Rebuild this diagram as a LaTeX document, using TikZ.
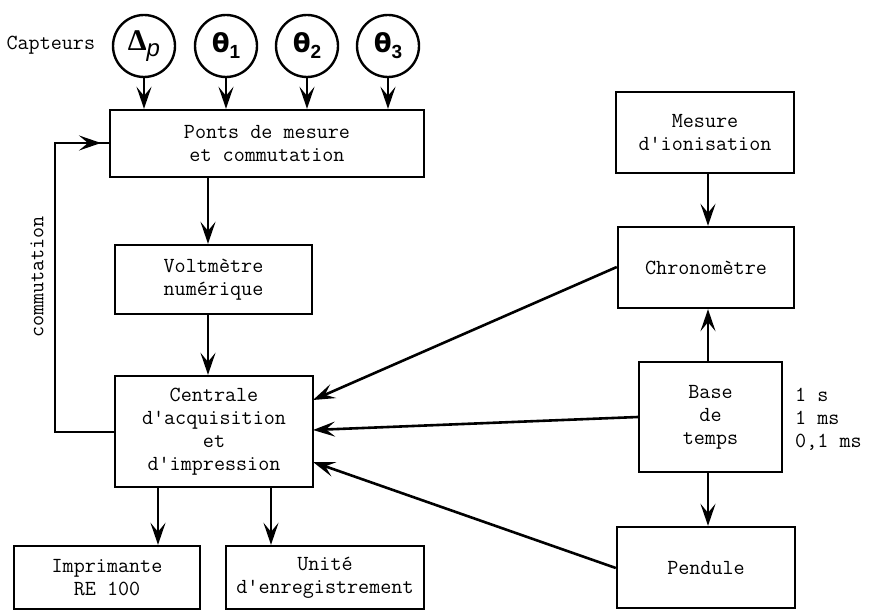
\documentclass[tikz,border=0pt]{standalone}
\usepackage{fontspec}
\usetikzlibrary{arrows.meta}
\newfontfamily\symsans{DejaVu Sans}
\newfontfamily\symserif{Liberation Serif}
\newfontfamily\subsans{Liberation Sans}
\begin{document}
\begin{tikzpicture}[x=1pt,y=-1pt]
\tikzset{
  ln/.style={line width=2.6pt},
  box/.style={draw,line width=2.4pt,rectangle,inner sep=0pt,align=center,font=\ttfamily\fontsize{21.5}{23}\selectfont},
  sens/.style={draw,line width=2.4pt,circle,minimum size=62pt,inner sep=0pt},
  lbl/.style={font=\ttfamily\fontsize{21.5}{23}\selectfont},
  arr/.style={line width=2.6pt,-{Stealth[length=22pt,width=15pt,inset=9pt]}}}
\useasboundingbox (0,0) rectangle (869,612);
% sensors
\node[lbl,anchor=west] (capt) at (3,45) {Capteurs};
\node[sens] (dp) at (144,46) {{\symserif\bfseries\fontsize{30}{30}\selectfont Δ}\raisebox{-6pt}{\subsans\itshape\fontsize{24}{24}\selectfont p}};
\node[sens] (t1) at (226,46) {{\symsans\bfseries\fontsize{26}{26}\selectfont θ}\raisebox{-6pt}{\subsans\bfseries\fontsize{19}{19}\selectfont 1}};
\node[sens] (t2) at (307,46) {{\symsans\bfseries\fontsize{26}{26}\selectfont θ}\raisebox{-6pt}{\subsans\bfseries\fontsize{19}{19}\selectfont 2}};
\node[sens] (t3) at (388,46) {{\symsans\bfseries\fontsize{26}{26}\selectfont θ}\raisebox{-6pt}{\subsans\bfseries\fontsize{19}{19}\selectfont 3}};
% left column
\node[box,minimum width=314pt,minimum height=67pt] (ponts) at (267,143.5) {Ponts de mesure\\et commutation};
\node[box,minimum width=197pt,minimum height=69pt] (volt) at (213.5,279.5) {Voltmètre\\numérique};
\node[box,minimum width=198pt,minimum height=111pt] (cent) at (214,431.5) {Centrale\\d'acquisition\\et\\d'impression};
\node[box,minimum width=186pt,minimum height=63pt] (impr) at (107,577.5) {Imprimante\\RE 100};
\node[box,minimum width=198pt,minimum height=63pt] (unit) at (325,577.5) {Unité\\d'enregistrement};
% right column
\node[box,minimum width=178pt,minimum height=81pt] (mes) at (705,132.5) {Mesure\\d'ionisation};
\node[box,minimum width=176pt,minimum height=81pt] (chrono) at (706,267.5) {Chronomètre};
\node[box,minimum width=143pt,minimum height=110pt] (base) at (710.5,417) {Base\\de\\temps};
\node[box,minimum width=178pt,minimum height=81pt] (pend) at (706,567.5) {Pendule};
\node[lbl,anchor=north west,align=left,inner sep=0pt] (freq) at (795,388) {1 s\\1 ms\\0,1 ms};
% sensor arrows
\draw[arr] (dp) -- (dp |- ponts.north);
\draw[arr] (t1) -- (t1 |- ponts.north);
\draw[arr] (t2) -- (t2 |- ponts.north);
\draw[arr] (t3) -- (t3 |- ponts.north);
% vertical chain
\coordinate (cx) at (208,0);
\coordinate (ix) at (158,0);
\coordinate (ux) at (271,0);
\coordinate (rx) at (708,0);
\draw[arr] (cx |- ponts.south) -- (cx |- volt.north);
\draw[arr] (cx |- volt.south) -- (cx |- cent.north);
\draw[arr] (ix |- cent.south) -- (ix |- impr.north);
\draw[arr] (ux |- cent.south) -- (ux |- unit.north);
\draw[arr] (rx |- mes.south) -- (rx |- chrono.north);
\draw[arr] (rx |- base.north) -- (rx |- chrono.south);
\draw[arr] (rx |- base.south) -- (rx |- pend.north);
% diagonals
\coordinate (c1) at (313,400);
\coordinate (c2) at (313,430);
\coordinate (c3) at (313,462);
\draw[arr] (chrono.west |- 0,267) -- (c1);
\draw[arr] (base.west |- 0,417) -- (c2);
\draw[arr] (pend.west |- 0,568) -- (c3);
% feedback loop
\coordinate (fb1) at (55,432);
\coordinate (fb2) at (55,143);
\coordinate (fbt) at (101,143);
\draw[ln] (cent.west |- fb1) -- (fb1) -- (fb2) -- (ponts.west |- fb2);
\draw[arr] (fb2) -- (fbt);
\node[lbl,rotate=90] (comm) at (37,277) {commutation};
\end{tikzpicture}
\end{document}
